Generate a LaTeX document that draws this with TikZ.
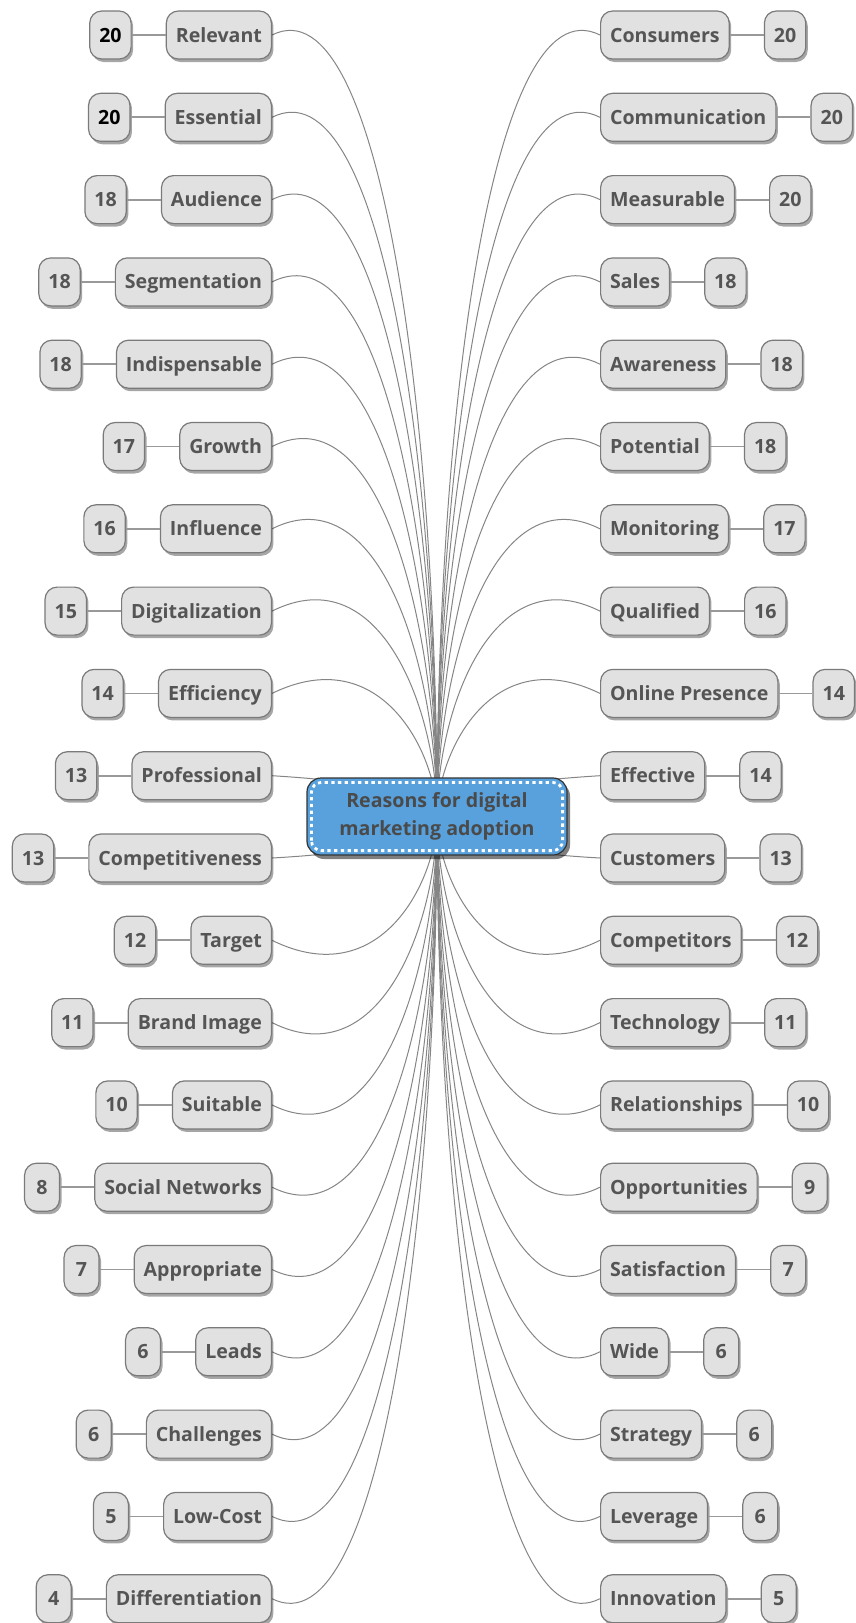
\documentclass[tikz,border=0pt]{standalone}
\usepackage{fontspec}
\setmainfont{Open Sans}
\usetikzlibrary{shadows,backgrounds}
\definecolor{boxfill}{HTML}{E1E1E1}
\definecolor{boxdraw}{HTML}{7A7A7A}
\definecolor{txt}{HTML}{555555}
\definecolor{linkc}{HTML}{858585}
\definecolor{stubc}{HTML}{999999}
\definecolor{centerfill}{HTML}{58A1DD}
\definecolor{centertxt}{HTML}{4A4A4A}
\tikzset{
  leaf/.style={draw=boxdraw, line width=1.2pt, fill=boxfill, rounded corners=12pt,
    minimum height=48pt, inner xsep=9.5pt, inner ysep=0pt, text height=16pt, text depth=2pt,
    font=\fontsize{19.6}{22}\selectfont\bfseries, text=txt,
    drop shadow={shadow xshift=2pt, shadow yshift=-3pt, opacity=0.35, fill=black}},
  num/.style={leaf, minimum width=35pt},
  link/.style={draw=linkc, line width=1pt},
  stub/.style={draw=stubc, line width=1.8pt},
  hub/.style={draw=black!80, line width=1.2pt, fill=centerfill, rounded corners=14pt,
    minimum width=260pt, minimum height=77pt, align=center, text=centertxt,
    font=\fontsize{19.6}{28.5}\selectfont\bfseries,
    drop shadow={shadow xshift=3pt, shadow yshift=-4pt, opacity=0.5, fill=black}},
}
\begin{document}
\begin{tikzpicture}
\path[use as bounding box] (0,0) rectangle (856pt,-1623pt);
\def\cx{437}
\def\cy{816.5}
\node[hub] (C) at (\cx pt,-\cy pt) {Reasons for digital\\marketing adoption};
\draw[white, line width=2.8pt, dash pattern=on 3.3pt off 3.4pt, rounded corners=10pt]
  ([shift={(5pt,5pt)}]C.south west) rectangle ([shift={(-5pt,-5pt)}]C.north east);
% left side
\foreach \n/\lab/\c [count=\i from 0] in {
  20/Relevant/black, 20/Essential/black, 18/Audience/txt, 18/Segmentation/txt,
  18/Indispensable/txt, 17/Growth/txt, 16/Influence/txt, 15/Digitalization/txt,
  14/Efficiency/txt, 13/Professional/txt, 13/Competitiveness/txt, 12/Target/txt,
  11/Brand Image/txt, 10/Suitable/txt, 8/Social Networks/txt, 7/Appropriate/txt,
  6/Leads/txt, 6/Challenges/txt, 5/Low-Cost/txt, 4/Differentiation/txt}{
  \pgfmathsetmacro{\ry}{35+\i*82.3}
  \pgfmathsetmacro{\my}{(\ry+\cy)/2}
  \pgfmathsetmacro{\sg}{(\ry<\cy) ? 1 : -1}
  \pgfmathsetmacro{\rr}{55*min(1,(abs(\cy-\ry)-50)/75)}
  \pgfmathsetmacro{\qy}{\ry-\sg*\rr}
  \node[leaf, anchor=east] (L\i) at (272pt,-\ry pt) {\lab};
  \node[num, anchor=east, text=\c] (LN\i) at ([xshift=-34pt]L\i.west) {\n};
  \draw[stub] (LN\i) -- (L\i);
  \begin{scope}[on background layer]
    \draw[link] (C.center) .. controls (\cx pt,-\my pt) and (382pt,-\qy pt) .. (L\i.east);
  \end{scope}
}
% right side
\foreach \n/\lab [count=\i from 0] in {
  20/Consumers, 20/Communication, 20/Measurable, 18/Sales, 18/Awareness,
  18/Potential, 17/Monitoring, 16/Qualified, 14/Online Presence, 14/Effective,
  13/Customers, 12/Competitors, 11/Technology, 10/Relationships, 9/Opportunities,
  7/Satisfaction, 6/Wide, 6/Strategy, 6/Leverage, 5/Innovation}{
  \pgfmathsetmacro{\ry}{35+\i*82.3}
  \pgfmathsetmacro{\my}{(\ry+\cy)/2}
  \pgfmathsetmacro{\sg}{(\ry<\cy) ? 1 : -1}
  \pgfmathsetmacro{\rr}{55*min(1,(abs(\cy-\ry)-50)/75)}
  \pgfmathsetmacro{\qy}{\ry-\sg*\rr}
  \node[leaf, anchor=west] (R\i) at (600pt,-\ry pt) {\lab};
  \node[num, anchor=west] (RN\i) at ([xshift=34pt]R\i.east) {\n};
  \draw[stub] (R\i) -- (RN\i);
  \begin{scope}[on background layer]
    \draw[link] (C.center) .. controls (\cx pt,-\my pt) and (490pt,-\qy pt) .. (R\i.west);
  \end{scope}
}
\end{tikzpicture}
\end{document}
